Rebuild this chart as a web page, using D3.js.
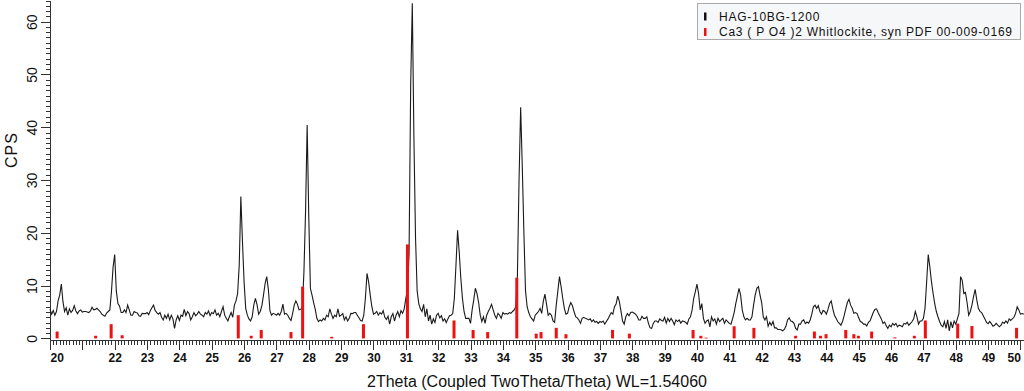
<!DOCTYPE html>
<html>
<head>
<meta charset="utf-8">
<script src="https://cdn.jsdelivr.net/npm/d3@7"></script>
<style>
  body { margin: 0; background: #fff; }
  svg { display: block; font-family: "Liberation Sans", Arial, sans-serif; }
  .axis path, .axis line { stroke: #333; shape-rendering: crispEdges; }
</style>
</head>
<body>
<svg id="chart" width="1024" height="391"></svg>
<script>

// measured scan: starts at 20.00 deg 2theta, 0.05 deg step, one row per degree
var scanStart = 20.0,
    scanStep = 0.05;

var cps20to25 = [
  5.5, 4.6, 5.3, 4.4, 5.1, 7.1, 8.2, 10.3, 7.0, 5.1, 5.8, 4.4, 5.6, 4.9, 5.3, 6.2, 5.2, 4.7, 5.2, 5.4,
  5.0, 5.1, 5.1, 5.0, 4.9, 5.2, 5.9, 5.4, 5.5, 5.7, 5.4, 5.1, 4.6, 4.4, 4.2, 4.8, 5.1, 5.4, 8.9, 13.5,
  15.9, 9.0, 6.6, 6.1, 4.9, 4.9, 5.4, 4.9, 6.3, 5.4, 4.4, 4.4, 5.1, 4.9, 4.8, 4.3, 4.2, 4.75, 4.7, 4.7,
  4.9, 4.5, 5.25, 5.8, 6.3, 5.3, 4.9, 4.6, 4.9, 4.0, 3.5, 4.4, 3.8, 4.6, 3.5, 4.4, 3.7, 1.9, 3.5, 4.3,
  3.4, 4.4, 4.2, 5.5, 4.3, 5.1, 4.7, 3.5, 4.1, 4.9, 4.3, 4.6, 5.1, 4.6, 4.4, 4.1, 4.9, 4.6, 5.2, 4.3
];

var cps25to30 = [
  4.9, 4.7, 5.4, 4.4, 4.75, 4.1, 5.1, 6.0, 4.4, 3.8, 3.3, 4.2, 4.9, 4.0, 6.3, 7.1, 8.5, 13.9, 26.9, 18.3,
  10.7, 5.7, 4.4, 3.7, 3.3, 4.1, 6.3, 7.6, 6.4, 4.6, 5.1, 6.2, 8.2, 10.4, 11.7, 9.3, 5.2, 4.4, 4.75, 4.6,
  4.4, 4.75, 4.4, 5.1, 6.5, 4.6, 4.75, 4.4, 3.8, 3.4, 4.7, 6.3, 7.1, 6.45, 5.4, 5.5, 5.8, 12.6, 24, 40.4,
  23, 9.5, 8.2, 6.8, 5.5, 3.8, 3.2, 3.5, 3.3, 3.8, 3.5, 4.4, 4.1, 5.6, 4.6, 3.8, 4.4, 4.1, 5.6, 4.2,
  4.4, 4.7, 3.5, 4.1, 3.3, 3.8, 4.75, 4.7, 4.9, 4.9, 4.4, 3.9, 3.4, 3.3, 4.4, 7.6, 12.3, 10.7, 8.2, 6.0
];

var cps30to35 = [
  4.6, 4.75, 5.1, 4.4, 4.9, 4.6, 5.25, 4.0, 3.6, 4.2, 2.7, 4.1, 4.7, 3.3, 4.4, 5.1, 4.1, 5.25, 4.75, 5.6,
  7.6, 9, 16, 48, 63.5, 38, 19, 9, 6.6, 5.6, 5.1, 6.45, 4.1, 5.6, 3.3, 4.4, 2.7, 3.7, 3.0, 4.4,
  4.75, 3.9, 4.3, 3.3, 3.7, 3.0, 3.7, 4.3, 4.4, 4.7, 7.6, 13.9, 20.5, 16.4, 11.4, 7.6, 5.1, 3.8, 3.8, 3.8,
  2.85, 5.4, 7.3, 9.5, 8.5, 6.8, 4.4, 3.2, 4.1, 2.85, 4.4, 5.1, 5.7, 6.45, 5.4, 4.4, 3.8, 4.75, 4.4, 3.8,
  4.9, 4.6, 4.7, 4.6, 4.9, 4.75, 5.1, 5.4, 6.0, 12, 30, 43.8, 32.5, 20, 9, 6.0, 4.9, 4.1, 3.7, 3.3
];

var cps35to40 = [
  4.4, 4.75, 5.1, 5.7, 4.75, 7.0, 8.4, 6.45, 4.4, 4.75, 4.4, 3.3, 3.05, 6.3, 9.0, 11.7, 9.8, 7.6, 5.7, 4.6,
  4.75, 6.0, 6.8, 6.2, 5.1, 4.1, 3.9, 3.5, 2.85, 3.8, 4.0, 3.8, 3.7, 3.5, 3.7, 3.2, 3.5, 3.05, 3.2, 2.85,
  3.2, 3.05, 3.3, 2.7, 3.2, 3.7, 4.3, 4.9, 4.6, 6.0, 6.5, 8.0, 7.0, 5.2, 3.3, 2.7, 4.1, 4.7, 4.3, 4.9,
  5.0, 4.8, 4.6, 4.2, 3.5, 3.5, 4.2, 3.8, 3.8, 4.1, 2.85, 2.0, 1.9, 2.85, 3.3, 3.3, 3.05, 3.7, 3.4, 3.3,
  4.0, 2.9, 3.8, 3.2, 3.8, 3.3, 2.6, 3.5, 3.2, 3.5, 2.9, 3.3, 3.2, 3.05, 2.7, 3.7, 4.1, 5.4, 7.6, 8.85
];

var cps40to45 = [
  10.3, 8.5, 5.4, 6.6, 3.8, 2.85, 3.3, 3.5, 2.2, 4.1, 3.3, 3.7, 2.7, 3.8, 3.2, 3.5, 3.8, 2.85, 3.5, 3.2,
  2.85, 2.7, 3.7, 4.9, 6.6, 8.0, 9.5, 8.2, 5.4, 4.1, 3.5, 3.8, 3.5, 3.5, 4.1, 6.3, 8.2, 9.5, 9.8, 8.2,
  6.8, 4.1, 3.5, 4.1, 2.3, 3.05, 2.5, 3.2, 2.0, 2.0, 1.7, 1.7, 1.65, 1.45, 1.7, 2.3, 3.5, 3.9, 3.3, 3.2,
  2.85, 1.9, 1.6, 2.7, 2.7, 3.3, 3.5, 2.8, 3.1, 2.9, 3.5, 4.6, 6.0, 6.3, 5.7, 6.2, 5.1, 4.6, 5.3, 5.1,
  4.6, 5.5, 6.6, 7.1, 5.6, 4.4, 3.8, 3.2, 2.85, 2.5, 3.2, 4.3, 5.6, 6.8, 7.4, 6.3, 5.7, 4.75, 4.9, 4.7
];

var cps45to50 = [
  3.9, 3.2, 3.05, 2.7, 2.7, 2.35, 3.05, 3.3, 4.1, 4.9, 5.5, 5.6, 4.9, 4.3, 3.7, 2.85, 3.1, 2.4, 1.9, 2.5,
  2.2, 2.85, 2.5, 2.85, 2.2, 2.5, 2.4, 2.2, 2.85, 2.7, 3.05, 2.5, 2.85, 3.2, 3.7, 5.1, 4.1, 2.7, 3.3, 3.3,
  3.8, 5.7, 10.7, 15.9, 13.5, 10.7, 8.5, 6.6, 5.1, 4.1, 3.2, 2.5, 2.2, 3.2, 1.9, 3.5, 1.4, 3.2, 2.0, 3.3,
  2.7, 3.7, 4.75, 11.7, 11.0, 8.5, 8.7, 6.8, 4.4, 5.1, 6.3, 7.9, 9.3, 7.3, 5.7, 5.1, 4.9, 4.3, 3.7, 3.05,
  2.8, 3.2, 2.8, 2.3, 2.5, 2.85, 2.5, 2.2, 2.5, 3.1, 2.85, 3.3, 2.9, 3.7, 3.4, 3.7, 4.0, 4.75, 6.0, 5.4,
  4.6, 4.7, 4.6
];

// reference pattern sticks (PDF 00-009-0169), scaled as on the plot
var stickAngles = [20.22, 21.41, 21.89, 22.23, 25.82, 26.22, 26.53, 27.45, 27.81, 28.71,
                   29.69, 31.05, 32.49, 33.08, 33.53, 34.43, 35.03, 35.18, 35.65, 35.95,
                   37.39, 37.91, 39.88, 40.12, 40.28, 41.15, 41.76, 43.05, 43.63, 43.82,
                   43.99, 44.60, 44.85, 44.99, 45.40, 46.12, 46.72, 47.06, 48.06, 48.50, 49.88];
var stickCps = [1.3, 0.5, 2.7, 0.6, 4.4, 0.5, 1.6, 1.2, 9.8, 0.3,
                2.7, 17.8, 3.4, 1.6, 1.2, 11.5, 0.9, 1.2, 2.0, 0.8,
                1.6, 0.9, 1.6, 0.5, 0.15, 2.3, 2.0, 0.5, 1.3, 0.5,
                0.8, 1.6, 0.8, 0.5, 1.3, 0.2, 0.5, 3.4, 2.8, 2.35, 2.0];

var xTickLabels = [20, 22, 23, 24, 25, 26, 27, 28, 29, 30, 31, 32, 33, 34, 35,
                   36, 37, 38, 39, 40, 41, 42, 43, 44, 45, 46, 47, 48, 49, 50];
var yTickLabels = [0, 10, 20, 30, 40, 50, 60];

var legendLabels = ["HAG-10BG-1200", "Ca3 ( P O4 )2 Whitlockite, syn PDF 00-009-0169"],
    legendColors = ["#111", "#ee1111"];

var counts = cps20to25.concat(cps25to30, cps30to35, cps35to40, cps40to45, cps45to50);
var scan = counts.map(function(c, i) { return [scanStart + i * scanStep, c]; });

var svg = d3.select("#chart");

var x = d3.scaleLinear().domain([20, 50.11]).range([50, 1024]),
    y = d3.scaleLinear().domain([-0.3, 64.1]).range([340, 0]);

// x axis: minor ticks every 0.1 deg, then the whole degrees
svg.append("g")
    .attr("class", "axis")
    .attr("transform", "translate(0,340)")
    .call(d3.axisBottom(x)
        .tickValues(d3.range(200, 502).map(function(d) { return d / 10; }))
        .tickSize(5).tickSizeOuter(0).tickFormat(""));

var xMajor = svg.append("g")
    .attr("class", "axis")
    .attr("transform", "translate(0,340)")
    .call(d3.axisBottom(x)
        .tickValues(d3.range(20, 51))
        .tickSize(10).tickSizeOuter(0)
        .tickFormat(function(d) { return xTickLabels.indexOf(d) < 0 ? "" : d; }));

xMajor.selectAll("text")
    .attr("fill", "#111")
    .style("font-size", "12px")
    .style("font-weight", "bold")
    .style("font-family", "'Liberation Sans', Arial, sans-serif");

// first and last labels are pushed inside the plot edges
xMajor.selectAll(".tick text")
    .filter(function(d) { return d === 20; })
    .attr("text-anchor", "start").attr("x", 0);
xMajor.selectAll(".tick text")
    .filter(function(d) { return d === 50; })
    .attr("text-anchor", "end").attr("x", 0);

// y axis
svg.append("g")
    .attr("class", "axis")
    .attr("transform", "translate(50,0)")
    .call(d3.axisLeft(y)
        .tickValues(d3.range(0, 65))
        .tickSize(4).tickSizeOuter(0).tickFormat(""));

var yMajor = svg.append("g")
    .attr("class", "axis")
    .attr("transform", "translate(50,0)")
    .call(d3.axisLeft(y)
        .tickValues(yTickLabels)
        .tickSize(9).tickSizeOuter(0));

yMajor.selectAll("text")
    .attr("x", 0)
    .attr("y", 0)
    .attr("dy", 0)
    .attr("text-anchor", "middle")
    .attr("transform", "translate(-13,0) rotate(-90)")
    .attr("fill", "#111")
    .style("font-size", "14px")
    .style("font-family", "'Liberation Sans', Arial, sans-serif");

// measured pattern
svg.append("path")
    .datum(scan)
    .attr("d", d3.line()
        .x(function(d) { return x(d[0]); })
        .y(function(d) { return y(d[1]); }))
    .attr("fill", "none")
    .attr("stroke", "#1a1a1a")
    .attr("stroke-width", 1.1);

// reference sticks
svg.selectAll(".stick")
    .data(stickAngles.map(function(a, i) { return [a, stickCps[i]]; }))
  .enter().append("rect")
    .attr("class", "stick")
    .attr("x", function(d) { return x(d[0]) - 1.5; })
    .attr("width", 3)
    .attr("y", function(d) { return y(d[1]); })
    .attr("height", function(d) { return y(0) - y(d[1]); })
    .attr("fill", legendColors[1]);

// axis titles
svg.append("text")
    .attr("transform", "translate(17,150) rotate(-90)")
    .attr("text-anchor", "middle")
    .style("font-size", "16px")
    .style("letter-spacing", "1px")
    .attr("fill", "#111")
    .text("CPS");

svg.append("text")
    .attr("x", 537)
    .attr("y", 387)
    .attr("text-anchor", "middle")
    .style("font-size", "16px")
    .attr("fill", "#111")
    .text("2Theta (Coupled TwoTheta/Theta) WL=1.54060");

// legend
var legend = svg.append("g").attr("transform", "translate(697,3)");

legend.append("rect")
    .attr("x", 0.5).attr("y", 0.5)
    .attr("width", 323).attr("height", 36)
    .attr("fill", "#f6f7f9")
    .attr("stroke", "#aaa");

var item = legend.selectAll(".item")
    .data(legendLabels)
  .enter().append("g")
    .attr("class", "item")
    .attr("transform", function(d, i) { return "translate(0," + (i * 15.5) + ")"; });

item.append("rect")
    .attr("x", 7).attr("y", 9.5)
    .attr("width", 2.5).attr("height", 8)
    .attr("fill", function(d, i) { return legendColors[i]; });

item.append("text")
    .attr("x", 22).attr("y", 17.5)
    .style("font-size", "12px")
    .style("letter-spacing", "0.75px")
    .attr("fill", "#111")
    .text(function(d) { return d; });

</script>
</body>
</html>
